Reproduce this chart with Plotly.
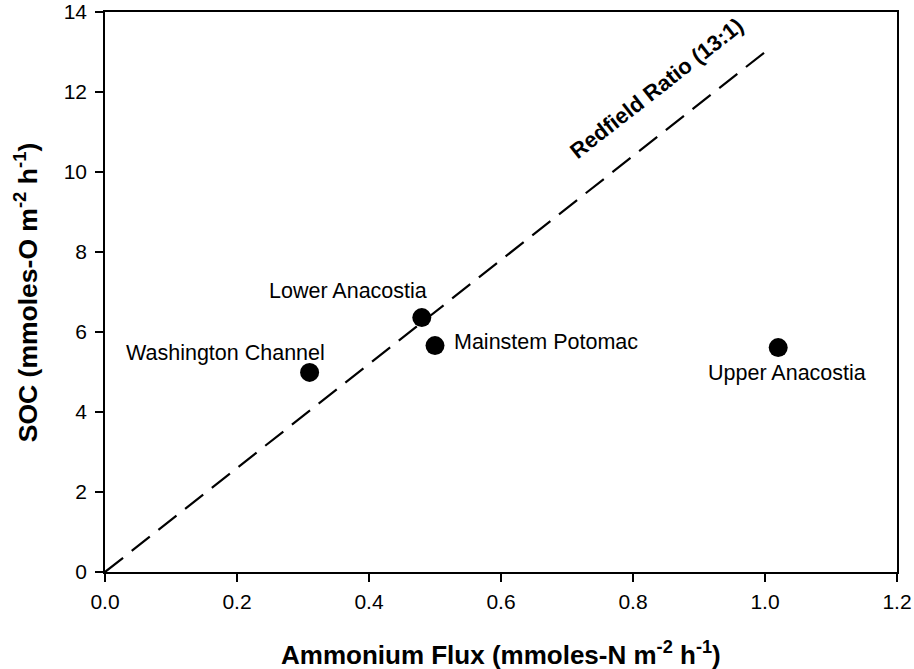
import plotly.graph_objects as go

# Data
sites = ["Washington Channel", "Lower Anacostia", "Mainstem Potomac", "Upper Anacostia"]
ammonium_flux = [0.31, 0.48, 0.50, 1.02]
soc = [4.99, 6.36, 5.66, 5.61]

redfield_x = [0.0, 1.0]
redfield_ratio = 13.0
redfield_y = [v * redfield_ratio for v in redfield_x]

x_ticks = [0.0, 0.2, 0.4, 0.6, 0.8, 1.0, 1.2]
y_ticks = [0, 2, 4, 6, 8, 10, 12, 14]

# label positions (data coords) and anchors
label_x = [0.183, 0.368, 0.526, 1.033]
label_y = [5.48, 7.03, 5.75, 4.975]
label_anchor = ["center", "center", "left", "center"]

FONT = "Liberation Sans, Arial, sans-serif"

fig = go.Figure()
fig.add_trace(go.Scatter(
    x=redfield_x, y=redfield_y, mode="lines",
    line=dict(color="black", width=2.2, dash="23px,11px"),
    showlegend=False, hoverinfo="skip", cliponaxis=False))
fig.add_trace(go.Scatter(
    x=ammonium_flux, y=soc, mode="markers",
    marker=dict(color="black", size=19, line=dict(width=0)),
    showlegend=False, cliponaxis=False))

annotations = []
for name, lx, ly, anc in zip(sites, label_x, label_y, label_anchor):
    annotations.append(dict(x=lx, y=ly, xref="x", yref="y", text=name,
                            showarrow=False, xanchor=anc, yanchor="middle",
                            font=dict(family=FONT, size=21.5, color="black")))
annotations.append(dict(x=0.835, y=12.1, xref="x", yref="y",
                        text="<b>Redfield Ratio (13:1)</b>", showarrow=False,
                        textangle=-38, xanchor="center", yanchor="middle",
                        font=dict(family=FONT, size=22, color="black")))
annotations.append(dict(x=0.5, y=-0.146, xref="paper", yref="paper",
                        text="<b>Ammonium Flux (mmoles-N m<sup>-2</sup> h<sup>-1</sup>)</b>",
                        showarrow=False, xanchor="center", yanchor="middle",
                        font=dict(family=FONT, size=26, color="black")))
annotations.append(dict(x=-0.0995, y=0.5, xref="paper", yref="paper",
                        text="<b>SOC (mmoles-O m<sup>-2</sup> h<sup>-1</sup>)</b>",
                        showarrow=False, textangle=-90, xanchor="center", yanchor="middle",
                        font=dict(family=FONT, size=26.5, color="black")))

fig.update_layout(
    template="none",
    width=914, height=669,
    margin=dict(l=105, r=17, t=12, b=97, autoexpand=False),
    paper_bgcolor="white", plot_bgcolor="white",
    font=dict(family=FONT, size=21, color="black"),
    annotations=annotations,
)
fig.update_xaxes(range=[0, 1.2], tickvals=x_ticks,
                 ticktext=[f"{v:.1f}" for v in x_ticks], automargin=False,
                 showgrid=False, zeroline=False, showline=True, linecolor="black",
                 linewidth=1.5, mirror=True, ticks="outside", ticklen=8, tickwidth=1.5,
                 tickcolor="black", tickfont=dict(family=FONT, size=21),
                 ticklabelstandoff=2)
fig.update_yaxes(range=[0, 14], tickvals=y_ticks, automargin=False,
                 showgrid=False, zeroline=False, showline=True, linecolor="black",
                 linewidth=1.5, mirror=True, ticks="outside", ticklen=8, tickwidth=1.5,
                 tickcolor="black", tickfont=dict(family=FONT, size=21),
                 ticklabelstandoff=4)

fig.write_html("out.html")
